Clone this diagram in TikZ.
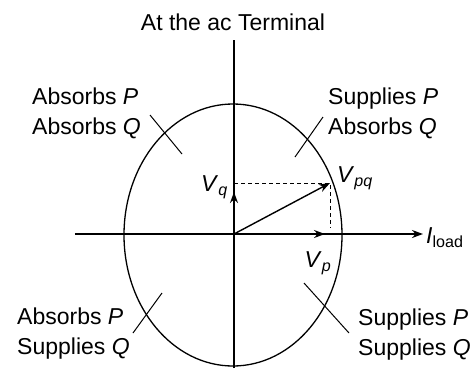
\documentclass[tikz,border=0pt]{standalone}
\usepackage{fontspec}
\setmainfont{Liberation Sans}
\usetikzlibrary{arrows.meta, positioning}

\begin{document}
\begin{tikzpicture}[x=1pt, y=1pt, >={Stealth[length=11pt,width=8pt]},
    lbl/.style={inner sep=0pt, font=\fontsize{23}{30}\selectfont, align=left},
    axis/.style={line width=2pt},
    phasor/.style={->, line width=1.4pt},
    guide/.style={dashed, line width=1pt, dash pattern=on 4pt off 3pt},
    tick/.style={line width=1pt}]
  \useasboundingbox (-234,-134) rectangle (242,234);
  % axes
  \coordinate (O) at (0,0);
  \coordinate (xl) at (-159,0);
  \coordinate (xr) at (189,0);
  \coordinate (yt) at (0,194);
  \coordinate (yb) at (0,-134);
  \draw[axis, ->] (xl) -- (xr);
  \draw[line width=1.3pt] (yb) -- (yt);
  % operating circle
  \draw[line width=1.3pt] (-1,-1) ellipse [x radius=109, y radius=131];
  % phasors
  \coordinate (Vpq) at (96,51);
  \coordinate (Vq) at (0,42);
  \coordinate (Vp) at (91,0);
  \coordinate (Vqd) at (0,51);
  \coordinate (Vpd) at (96,6);
  \draw[guide] (Vqd) -- (Vpq) -- (Vpd);
  \draw[phasor] (O) -- (Vpq);
  \draw[phasor] (O) -- (Vq);
  \draw[phasor] (O) -- (Vp);
  % labels
  \node[lbl] (title) at (-1,212) {At the ac Terminal};
  \node[lbl, anchor=east] (lVq) at (-6,47) {\textit{V}\textsubscript{\textit{q}}};
  \node[lbl, anchor=west] (lVpq) at (103,56) {\textit{V}\textsubscript{\textit{pq}}};
  \node[lbl] (lVp) at (84,-29) {\textit{V}\textsubscript{\textit{p}}};
  \node[lbl, anchor=west] (lI) at (192,-4) {\textit{I}\textsubscript{load}};
  % quadrants
  \node[lbl, anchor=west] (ul) at (-202,121) {Absorbs \textit{P}\\Absorbs \textit{Q}};
  \node[lbl, anchor=west] (ur) at (94,121) {Supplies \textit{P}\\Absorbs \textit{Q}};
  \node[lbl, anchor=west] (ll) at (-217,-100) {Absorbs \textit{P}\\Supplies \textit{Q}};
  \node[lbl, anchor=west] (lr) at (124,-101) {Supplies \textit{P}\\Supplies \textit{Q}};
  % tick marks across the circle
  \coordinate (ula) at (-84,119); \coordinate (ulb) at (-52,80);
  \coordinate (ura) at (89,117);  \coordinate (urb) at (61,77);
  \coordinate (lla) at (-72,-59); \coordinate (llb) at (-101,-99);
  \coordinate (lra) at (70,-49);  \coordinate (lrb) at (115,-99);
  \draw[tick] (ula) -- (ulb);
  \draw[tick] (ura) -- (urb);
  \draw[tick] (lla) -- (llb);
  \draw[tick] (lra) -- (lrb);
\end{tikzpicture}
\end{document}
